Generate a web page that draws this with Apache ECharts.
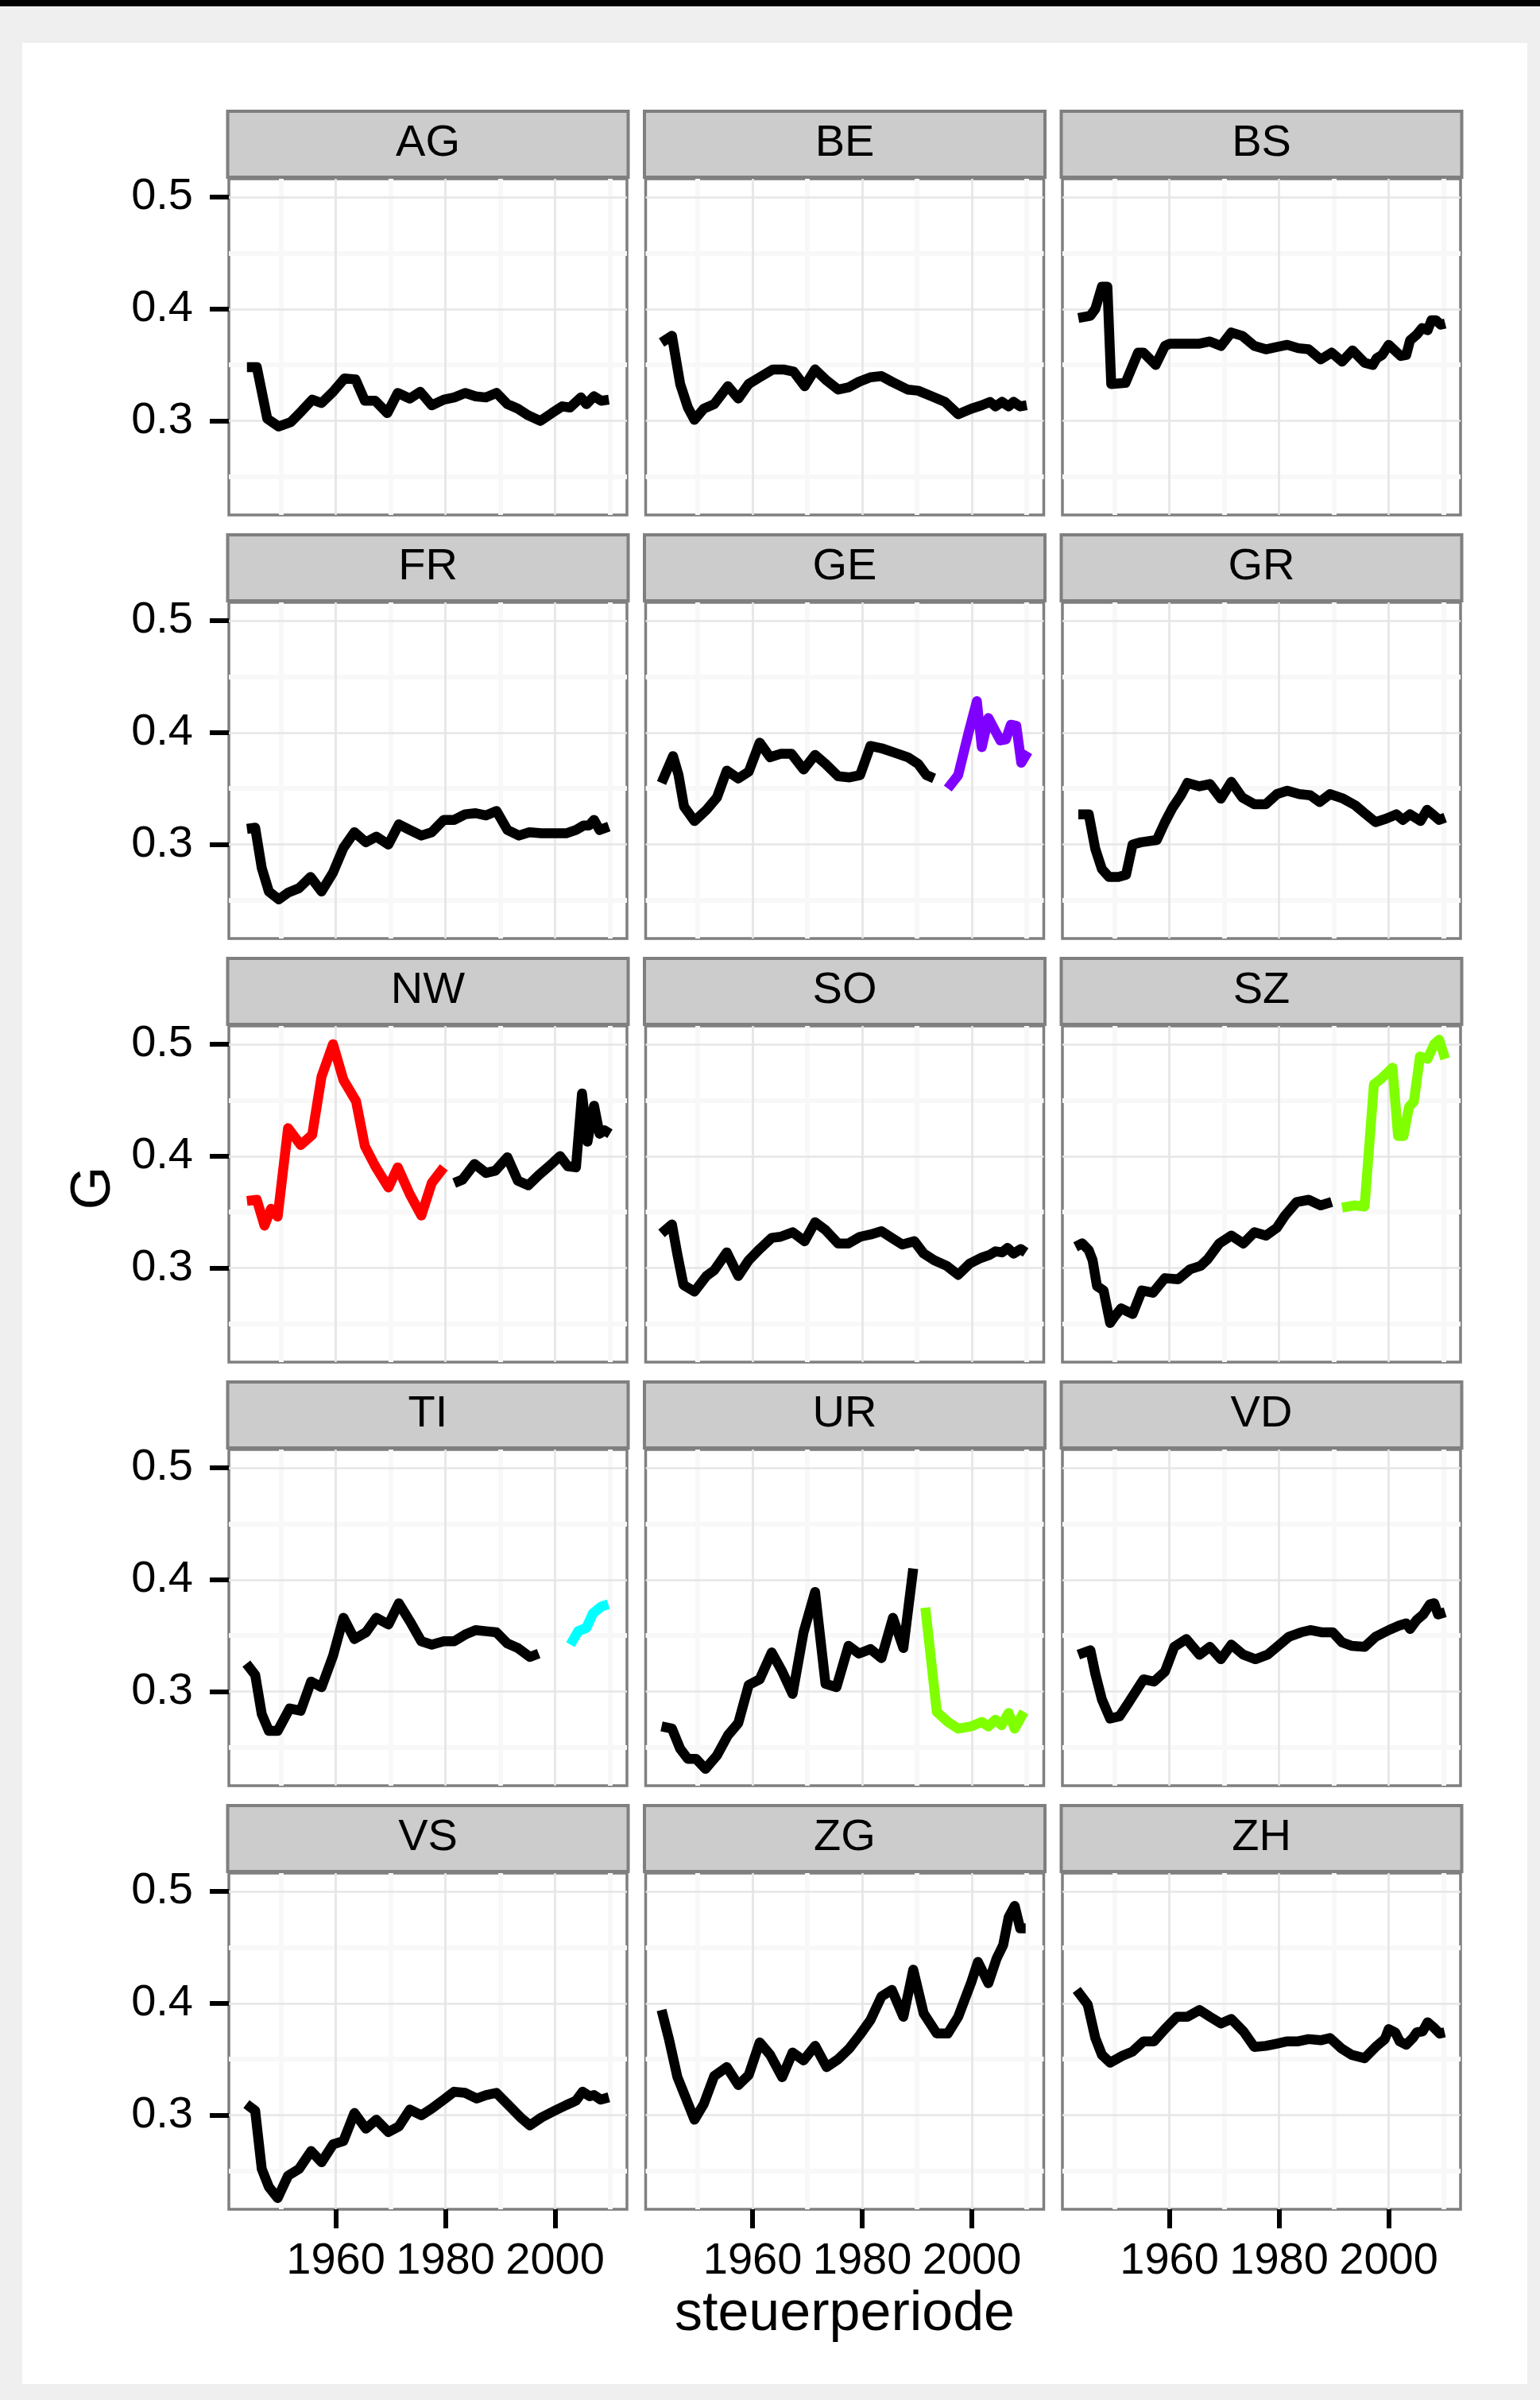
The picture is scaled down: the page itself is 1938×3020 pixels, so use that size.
<!DOCTYPE html>
<html>
<head>
<meta charset="utf-8">
<script src="https://cdn.jsdelivr.net/npm/echarts@6/dist/echarts.min.js"></script>
<style>
  html, body { margin: 0; padding: 0; background: #efefef; }
  #chart { width: 1938px; height: 3020px; }
</style>
</head>
<body>
<div id="chart"></div>
<script>
// ---------------- DATA ----------------
const cantons = ['AG','BE','BS','FR','GE','GR','NW','SO','SZ','TI','UR','VD','VS','ZG','ZH'];
const xTicks = [1960, 1980, 2000];
const xMinorTicks = [1950, 1970, 1990, 2010];
const yTicks = [0.3, 0.4, 0.5];
const yMinorTicks = [0.25, 0.35, 0.45];

const AG = [[1943.8,0.348],[1945.6,0.348],[1947.5,0.302],[1949.6,0.295],[1951.8,0.299],[1953.8,0.309],[1955.7,0.319],[1957.4,0.316],[1959.5,0.326],[1961.6,0.338],[1963.6,0.337],[1965.3,0.318],[1967.2,0.318],[1969.4,0.307],[1971.3,0.325],[1973.5,0.320],[1975.4,0.326],[1977.5,0.314],[1979.7,0.319],[1981.6,0.321],[1983.6,0.325],[1985.5,0.322],[1987.4,0.321],[1989.3,0.325],[1991.3,0.315],[1993.2,0.311],[1995.1,0.305],[1997.3,0.300],[1999.4,0.307],[2001.3,0.313],[2002.7,0.312],[2004.7,0.321],[2005.7,0.315],[2007.1,0.322],[2008.4,0.318],[2009.8,0.319]];
const BE = [[1943.4,0.370],[1945.3,0.376],[1946.8,0.333],[1948.2,0.312],[1949.4,0.301],[1951.1,0.311],[1953.0,0.315],[1955.5,0.331],[1957.4,0.320],[1959.3,0.333],[1961.3,0.339],[1963.7,0.346],[1965.6,0.346],[1967.5,0.344],[1969.5,0.331],[1971.4,0.346],[1973.3,0.337],[1975.6,0.328],[1977.5,0.330],[1979.4,0.335],[1981.5,0.339],[1983.5,0.340],[1985.4,0.335],[1988.3,0.328],[1990.2,0.327],[1992.7,0.322],[1995.1,0.317],[1997.5,0.306],[1999.9,0.311],[2001.8,0.314],[2003.3,0.317],[2004.3,0.313],[2005.5,0.317],[2006.7,0.313],[2007.6,0.317],[2008.8,0.313],[2010.0,0.314]];
const BS = [[1943.4,0.392],[1945.6,0.394],[1946.5,0.400],[1947.7,0.420],[1948.7,0.420],[1949.4,0.333],[1952.0,0.334],[1954.3,0.361],[1955.3,0.361],[1957.5,0.350],[1959.2,0.367],[1960.1,0.369],[1963.1,0.369],[1965.5,0.369],[1967.4,0.371],[1969.4,0.367],[1971.3,0.379],[1973.3,0.376],[1975.5,0.367],[1977.6,0.364],[1979.6,0.366],[1981.5,0.368],[1983.5,0.365],[1985.4,0.364],[1987.6,0.355],[1989.6,0.361],[1991.5,0.353],[1993.4,0.363],[1995.6,0.352],[1997.1,0.350],[1997.8,0.356],[1998.8,0.359],[2000.0,0.368],[2002.2,0.358],[2003.2,0.359],[2003.9,0.372],[2005.1,0.377],[2006.1,0.383],[2007.1,0.381],[2007.8,0.390],[2008.6,0.390],[2009.5,0.386],[2010.3,0.387]];
const FR = [[1943.8,0.314],[1945.3,0.315],[1946.5,0.279],[1947.8,0.258],[1949.6,0.251],[1951.3,0.257],[1953.3,0.261],[1955.4,0.271],[1957.4,0.258],[1959.5,0.275],[1961.4,0.297],[1963.4,0.311],[1965.5,0.302],[1967.4,0.307],[1969.6,0.300],[1971.5,0.318],[1973.5,0.313],[1975.6,0.308],[1977.5,0.311],[1979.7,0.322],[1981.6,0.322],[1983.6,0.327],[1985.5,0.328],[1987.4,0.326],[1989.3,0.330],[1991.3,0.313],[1993.4,0.308],[1995.3,0.311],[1997.5,0.310],[1999.9,0.310],[2002.0,0.310],[2003.8,0.313],[2005.2,0.317],[2006.2,0.317],[2007.1,0.322],[2008.1,0.313],[2009.8,0.316]];
const GE = [[1943.4,0.355],[1945.5,0.379],[1946.5,0.362],[1947.5,0.334],[1949.4,0.321],[1951.6,0.331],[1953.5,0.342],[1955.3,0.366],[1957.4,0.359],[1959.3,0.365],[1961.3,0.391],[1963.2,0.378],[1965.1,0.381],[1967.1,0.381],[1969.3,0.367],[1971.4,0.380],[1973.3,0.372],[1975.6,0.361],[1977.7,0.360],[1979.6,0.362],[1981.5,0.388],[1983.5,0.386],[1985.9,0.382],[1988.3,0.378],[1990.2,0.372],[1991.7,0.362],[1993.1,0.359]];
const GE_late = [[1995.6,0.350],[1997.5,0.362],[1999.4,0.400],[2000.9,0.428],[2001.8,0.387],[2003.0,0.413],[2004.3,0.401],[2005.2,0.393],[2006.2,0.394],[2007.1,0.407],[2008.1,0.406],[2009.0,0.373],[2010.2,0.383]];
const GR = [[1943.4,0.327],[1945.3,0.327],[1946.5,0.296],[1947.7,0.278],[1949.0,0.271],[1950.7,0.271],[1952.1,0.273],[1953.3,0.300],[1954.8,0.302],[1957.7,0.304],[1959.2,0.320],[1960.6,0.333],[1962.1,0.344],[1963.3,0.355],[1965.5,0.352],[1967.4,0.354],[1969.4,0.341],[1971.3,0.356],[1973.3,0.342],[1975.5,0.336],[1977.6,0.336],[1979.6,0.345],[1981.5,0.348],[1983.7,0.345],[1985.7,0.344],[1987.4,0.338],[1989.3,0.345],[1991.7,0.341],[1993.9,0.335],[1995.6,0.328],[1997.6,0.320],[1999.5,0.323],[2001.4,0.327],[2002.6,0.322],[2003.9,0.327],[2005.8,0.321],[2007.0,0.331],[2008.0,0.327],[2009.2,0.322],[2010.3,0.324]];
const NW_early = [[1943.8,0.360],[1945.6,0.361],[1947.0,0.338],[1948.2,0.353],[1949.4,0.346],[1951.3,0.425],[1953.6,0.410],[1955.7,0.419],[1957.4,0.471],[1959.5,0.500],[1961.4,0.468],[1963.7,0.449],[1965.3,0.409],[1967.2,0.391],[1969.6,0.372],[1971.3,0.390],[1973.5,0.366],[1975.6,0.347],[1977.5,0.376],[1979.7,0.390]];
const NW = [[1981.6,0.376],[1983.1,0.379],[1985.3,0.393],[1987.4,0.385],[1989.1,0.387],[1991.3,0.399],[1993.2,0.378],[1995.1,0.374],[1997.0,0.383],[1998.9,0.391],[2000.9,0.400],[2002.3,0.391],[2003.8,0.390],[2004.9,0.456],[2005.9,0.413],[2007.1,0.445],[2008.1,0.420],[2009.0,0.423],[2010.0,0.420]];
const SO = [[1943.4,0.331],[1945.3,0.339],[1946.3,0.312],[1947.4,0.285],[1949.4,0.279],[1951.6,0.293],[1953.0,0.298],[1955.3,0.314],[1957.4,0.293],[1959.3,0.307],[1961.3,0.317],[1963.5,0.327],[1965.1,0.328],[1967.3,0.332],[1969.5,0.324],[1971.4,0.341],[1973.3,0.334],[1975.6,0.322],[1977.5,0.322],[1979.6,0.328],[1981.5,0.330],[1983.5,0.333],[1985.4,0.327],[1987.3,0.321],[1989.5,0.324],[1991.2,0.313],[1993.1,0.307],[1995.4,0.302],[1997.5,0.294],[1999.6,0.304],[2001.6,0.309],[2003.3,0.312],[2004.3,0.315],[2005.5,0.314],[2006.5,0.318],[2007.6,0.313],[2008.9,0.317],[2009.8,0.314]];
const SZ = [[1942.9,0.319],[1944.1,0.322],[1945.3,0.316],[1946.0,0.307],[1946.8,0.284],[1948.0,0.280],[1949.2,0.251],[1949.9,0.256],[1951.2,0.264],[1953.3,0.259],[1955.0,0.280],[1957.0,0.278],[1959.2,0.291],[1961.6,0.290],[1963.8,0.299],[1965.7,0.302],[1967.0,0.308],[1969.1,0.322],[1971.3,0.329],[1973.5,0.322],[1975.5,0.332],[1977.6,0.329],[1979.6,0.336],[1981.1,0.347],[1983.2,0.359],[1985.4,0.361],[1987.6,0.356],[1989.6,0.359]];
const SZ_late = [[1991.5,0.354],[1993.7,0.356],[1995.6,0.355],[1997.3,0.464],[1998.6,0.469],[2000.7,0.479],[2001.7,0.418],[2002.7,0.418],[2003.7,0.444],[2004.6,0.449],[2005.7,0.489],[2007.1,0.487],[2008.3,0.500],[2009.2,0.504],[2010.3,0.487]];
const TI = [[1943.7,0.325],[1945.3,0.315],[1946.5,0.280],[1947.8,0.265],[1949.4,0.265],[1951.6,0.285],[1953.6,0.283],[1955.5,0.309],[1957.4,0.304],[1959.5,0.332],[1961.4,0.366],[1963.4,0.347],[1965.5,0.353],[1967.4,0.366],[1969.6,0.360],[1971.5,0.379],[1973.5,0.363],[1975.6,0.345],[1977.5,0.342],[1979.7,0.345],[1981.6,0.345],[1983.6,0.351],[1985.5,0.355],[1987.4,0.354],[1989.3,0.353],[1991.3,0.343],[1993.2,0.339],[1995.4,0.331],[1997.0,0.334]];
const TI_late = [[2002.8,0.342],[2004.2,0.354],[2005.7,0.357],[2006.9,0.370],[2008.4,0.376],[2009.7,0.378]];
const UR = [[1943.4,0.269],[1945.3,0.267],[1946.8,0.249],[1948.2,0.240],[1949.7,0.240],[1951.4,0.231],[1953.5,0.243],[1955.5,0.261],[1957.4,0.272],[1959.3,0.306],[1961.3,0.311],[1963.5,0.335],[1965.4,0.318],[1967.3,0.298],[1969.3,0.353],[1971.4,0.389],[1973.3,0.307],[1975.3,0.304],[1977.5,0.341],[1979.4,0.334],[1981.5,0.338],[1983.5,0.330],[1985.6,0.366],[1987.5,0.339],[1989.3,0.410]];
const UR_late = [[1991.5,0.375],[1993.6,0.282],[1995.6,0.273],[1997.5,0.267],[1999.9,0.269],[2001.8,0.273],[2003.0,0.269],[2004.3,0.275],[2005.4,0.270],[2006.7,0.281],[2007.8,0.267],[2009.5,0.282]];
const VD = [[1943.4,0.333],[1945.6,0.337],[1946.5,0.316],[1947.7,0.293],[1949.2,0.276],[1950.9,0.278],[1952.4,0.289],[1955.3,0.311],[1957.2,0.309],[1959.2,0.318],[1960.9,0.340],[1963.1,0.347],[1965.5,0.333],[1967.4,0.340],[1969.4,0.329],[1971.3,0.342],[1973.5,0.333],[1975.7,0.329],[1977.9,0.333],[1980.1,0.342],[1981.8,0.349],[1984.0,0.353],[1985.7,0.355],[1987.9,0.353],[1989.8,0.353],[1991.5,0.344],[1993.2,0.341],[1995.6,0.340],[1997.6,0.349],[2000.0,0.355],[2001.9,0.359],[2003.2,0.361],[2003.9,0.356],[2005.1,0.364],[2006.3,0.369],[2007.5,0.378],[2008.3,0.379],[2009.0,0.369],[2010.3,0.371]];
const VS = [[1943.7,0.310],[1945.3,0.304],[1946.5,0.252],[1947.8,0.236],[1949.4,0.226],[1951.3,0.246],[1953.3,0.252],[1955.5,0.268],[1957.4,0.258],[1959.5,0.274],[1961.4,0.277],[1963.4,0.302],[1965.5,0.288],[1967.4,0.296],[1969.6,0.285],[1971.5,0.290],[1973.5,0.305],[1975.6,0.300],[1977.5,0.306],[1979.7,0.314],[1981.6,0.321],[1983.6,0.320],[1985.7,0.315],[1987.4,0.318],[1989.3,0.320],[1991.7,0.308],[1993.7,0.298],[1995.4,0.291],[1997.5,0.298],[1999.9,0.304],[2002.0,0.309],[2003.8,0.313],[2005.0,0.321],[2006.3,0.317],[2007.1,0.318],[2008.3,0.314],[2009.8,0.316]];
const ZG = [[1943.4,0.394],[1944.8,0.367],[1946.3,0.334],[1947.7,0.317],[1949.4,0.296],[1951.1,0.310],[1953.0,0.335],[1955.3,0.343],[1957.4,0.327],[1959.3,0.336],[1961.3,0.365],[1963.2,0.354],[1965.4,0.334],[1967.3,0.356],[1969.3,0.349],[1971.4,0.362],[1973.5,0.343],[1975.6,0.350],[1977.7,0.360],[1979.6,0.372],[1981.5,0.385],[1983.5,0.406],[1985.4,0.412],[1987.5,0.388],[1989.3,0.430],[1991.2,0.391],[1993.6,0.373],[1995.6,0.373],[1997.5,0.388],[1999.9,0.419],[2001.1,0.437],[2003.0,0.418],[2004.5,0.440],[2005.7,0.452],[2006.7,0.477],[2007.8,0.487],[2008.8,0.467],[2009.8,0.467]];
const ZH = [[1943.1,0.412],[1945.1,0.399],[1946.5,0.369],[1947.7,0.354],[1949.2,0.347],[1951.4,0.353],[1953.3,0.357],[1955.3,0.366],[1957.2,0.366],[1959.2,0.377],[1961.4,0.388],[1963.3,0.388],[1965.5,0.394],[1967.4,0.388],[1969.4,0.382],[1971.3,0.386],[1973.5,0.375],[1975.5,0.361],[1977.6,0.362],[1979.6,0.364],[1981.5,0.366],[1983.5,0.366],[1985.4,0.368],[1987.6,0.367],[1989.3,0.369],[1991.3,0.360],[1993.2,0.354],[1995.6,0.351],[1997.6,0.361],[1999.3,0.368],[2000.0,0.377],[2001.2,0.374],[2002.0,0.366],[2003.2,0.363],[2004.4,0.369],[2005.1,0.374],[2006.2,0.375],[2007.1,0.383],[2008.3,0.378],[2009.3,0.373],[2010.2,0.374]];

// segments per canton (data) and their colours (style)
const segments = {
  AG: [AG], BE: [BE], BS: [BS], FR: [FR], GE: [GE, GE_late], GR: [GR],
  NW: [NW_early, NW], SO: [SO], SZ: [SZ, SZ_late], TI: [TI, TI_late],
  UR: [UR, UR_late], VD: [VD], VS: [VS], ZG: [ZG], ZH: [ZH]
};
const segColors = {
  GE: ['#000000', '#8000FF'],
  NW: ['#FF0000', '#000000'],
  SZ: ['#000000', '#80FF00'],
  TI: ['#000000', '#00FFFF'],
  UR: ['#000000', '#80FF00']
};

// ---------------- LAYOUT ----------------
const FONT = "'Liberation Sans', Arial, Helvetica, sans-serif";
const colLeft = [288, 812.5, 1337];
const panelW = 501;
const rowTop0 = 225, rowStep = 533, panelH = 423;
const xMin = 1940.5, xMax = 2013.1;
const yMin = 0.2160, yMax = 0.5163;

const grids = [], xAxes = [], yAxes = [], series = [];
const graphics = [
  { type: 'rect', shape: { x: 0, y: 0, width: 1938, height: 8 }, style: { fill: '#000000' }, z: -20 },
  { type: 'rect', shape: { x: 28, y: 54, width: 1894, height: 2946 }, style: { fill: '#ffffff' }, z: -20 }
];

cantons.forEach((c, i) => {
  const r = Math.floor(i / 3), col = i % 3;
  const left = colLeft[col], top = rowTop0 + r * rowStep;
  const bottomRow = (r === 4);
  const leftCol = (col === 0);
  grids.push({ left: left, top: top, width: panelW, height: panelH, show: true,
    backgroundColor: 'transparent', borderColor: '#7f7f7f', borderWidth: 3.5, containLabel: false });

  // minor gridline axes
  xAxes.push({ type: 'value', gridIndex: i, position: 'top', min: xMin, max: xMax, z: 0,
    axisLine: { show: false }, axisLabel: { show: false },
    axisTick: { show: false, customValues: xMinorTicks },
    splitLine: { show: true, lineStyle: { color: '#f8f8f8', width: 6 } } });
  yAxes.push({ type: 'value', gridIndex: i, position: 'right', min: yMin, max: yMax, z: 0,
    axisLine: { show: false }, axisLabel: { show: false },
    axisTick: { show: false, customValues: yMinorTicks },
    splitLine: { show: true, lineStyle: { color: '#f8f8f8', width: 6 } } });
  // major axes
  xAxes.push({ type: 'value', gridIndex: i, position: 'bottom', min: xMin, max: xMax, z: 1,
    axisLine: { show: false },
    axisTick: { show: bottomRow, customValues: xTicks, length: 24, lineStyle: { color: '#000', width: 6 } },
    axisLabel: { show: bottomRow, customValues: xTicks, color: '#000', fontSize: 56, fontFamily: FONT, margin: 38,
      formatter: v => String(v) },
    splitLine: { show: true, lineStyle: { color: '#e6e6e6', width: 2.7 } } });
  yAxes.push({ type: 'value', gridIndex: i, position: 'left', min: yMin, max: yMax, z: 1,
    axisLine: { show: false },
    axisTick: { show: leftCol, customValues: yTicks, length: 24, lineStyle: { color: '#000', width: 6 } },
    axisLabel: { show: leftCol, customValues: yTicks, color: '#000', fontSize: 56, fontFamily: FONT, margin: 45,
      formatter: v => v.toFixed(1) },
    splitLine: { show: true, lineStyle: { color: '#e6e6e6', width: 2.7 } } });

  const segs = segments[c];
  const cols = segColors[c] || ['#000000'];
  segs.forEach((seg, k) => {
    series.push({ type: 'line', xAxisIndex: 2 * i + 1, yAxisIndex: 2 * i + 1, data: seg,
      showSymbol: false, symbol: 'none', silent: true, animation: false, z: 5,
      lineStyle: { color: cols[k] || '#000000', width: 12.5, cap: 'butt', join: 'round' } });
  });

  // strip
  graphics.push({ type: 'rect', shape: { x: left - 1.5, y: top - 85, width: panelW + 3, height: 83 },
    style: { fill: '#cccccc', stroke: '#7f7f7f', lineWidth: 4 }, z: 10 });
  graphics.push({ type: 'text', x: left + panelW / 2, y: top - 44,
    style: { text: c, fill: '#000', font: '56px ' + FONT, textAlign: 'center', textVerticalAlign: 'middle' }, z: 11 });
});

graphics.push({ type: 'text', x: 1063, y: 2913,
  style: { text: 'steuerperiode', fill: '#000', font: '70px ' + FONT, textAlign: 'center', textVerticalAlign: 'middle' }, z: 11 });
graphics.push({ type: 'text', x: 119, y: 1495, rotation: Math.PI / 2,
  style: { text: 'G', fill: '#000', font: '70px ' + FONT, textAlign: 'center', textVerticalAlign: 'middle' }, z: 11 });

const chart = echarts.init(document.getElementById('chart'), null, { renderer: 'canvas' });
chart.setOption({
  backgroundColor: '#efefef',
  animation: false,
  grid: grids,
  xAxis: xAxes,
  yAxis: yAxes,
  series: series,
  graphic: graphics
});
</script>
</body>
</html>
